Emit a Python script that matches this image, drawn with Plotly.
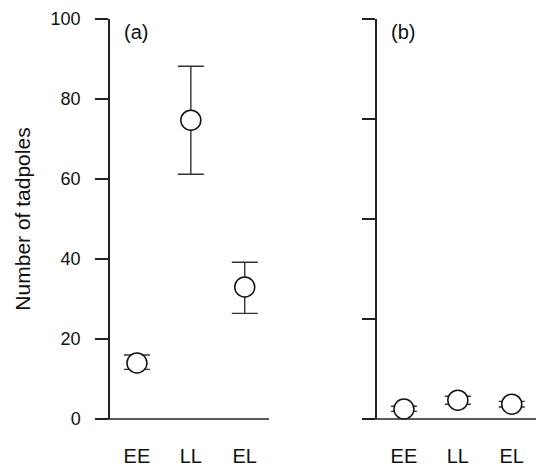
import plotly.graph_objects as go

# Treatment groups and tadpole counts (mean with upper / lower limits)
groups = ["EE", "LL", "EL"]

a_mean = [14.0, 74.7, 33.0]
a_upper = [16.0, 88.2, 39.2]
a_lower = [12.4, 61.2, 26.4]

b_mean = [2.5, 4.7, 3.7]
b_upper = [3.2, 5.7, 4.4]
b_lower = [1.9, 3.7, 3.0]

y_ticks_a = [0, 20, 40, 60, 80, 100]
y_ticks_b = [0, 25, 50, 75, 100]

FONT = "Liberation Sans, Arial, sans-serif"
AXIS = "#222222"
INK = "#111111"

fig = go.Figure()


def add_panel(mean, upper, lower, xa, ya):
    fig.add_trace(go.Scatter(
        x=groups, y=mean, mode="markers",
        xaxis=xa, yaxis=ya,
        marker=dict(size=20, color="white", line=dict(color=INK, width=1.5)),
        error_y=dict(
            type="data", symmetric=False,
            array=[u - m for u, m in zip(upper, mean)],
            arrayminus=[m - l for m, l in zip(mean, lower)],
            color="#333333", thickness=1.4, width=13,
        ),
        showlegend=False, cliponaxis=False,
    ))


add_panel(a_mean, a_upper, a_lower, "x", "y")
add_panel(b_mean, b_upper, b_lower, "x2", "y2")

W, H = 537, 474
xdom_a = [110 / W, 269 / W]
xdom_b = [377 / W, 536 / W]
ydom = [55 / H, 1 - 19 / H]

xcommon = dict(
    type="category", range=[-0.5, 2.45], showgrid=False, zeroline=False,
    showline=False, ticks="", ticklabelstandoff=23, automargin=False,
    tickfont=dict(family=FONT, size=20, color=INK),
)
ycommon = dict(
    range=[0, 100], showgrid=False, zeroline=False, showline=True,
    linecolor=AXIS, linewidth=1.5, ticks="outside", ticklen=13,
    tickcolor=AXIS, tickwidth=1.5, automargin=False,
    tickfont=dict(family=FONT, size=18, color=INK),
)

fig.update_layout(
    width=W, height=H,
    margin=dict(l=0, r=0, t=0, b=0),
    paper_bgcolor="white", plot_bgcolor="white",
    xaxis=dict(domain=xdom_a, anchor="y", **xcommon),
    xaxis2=dict(domain=xdom_b, anchor="y2", **xcommon),
    yaxis=dict(domain=ydom, anchor="x", tickvals=y_ticks_a,
               ticklabelstandoff=11,
               title=dict(text="Number of tadpoles", standoff=14,
                          font=dict(family=FONT, size=21, color=INK)),
               **ycommon),
    yaxis2=dict(domain=ydom, anchor="x2", tickvals=y_ticks_b,
                showticklabels=False, **ycommon),
)

# Baselines that run a little past the left axis, as in the tick marks
for xref in ["x domain", "x2 domain"]:
    fig.add_shape(type="line", xref=xref, yref="paper",
                  x0=-13 / 159, x1=1.0, y0=ydom[0], y1=ydom[0],
                  line=dict(color=AXIS, width=1.5))

# Panel letters
for xref, yref, label in [("x domain", "y domain", "(a)"),
                          ("x2 domain", "y2 domain", "(b)")]:
    fig.add_annotation(xref=xref, yref=yref, x=0.075, y=1.0,
                       xanchor="left", yanchor="top", text=label,
                       showarrow=False,
                       font=dict(family=FONT, size=20, color=INK))

fig.write_html("out.html")
